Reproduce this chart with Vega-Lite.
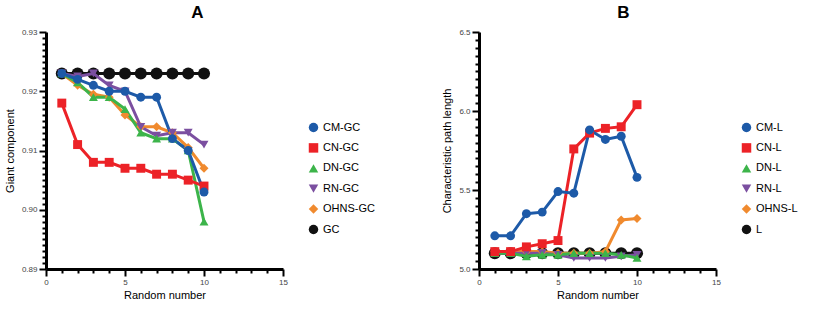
{
  "$schema": "https://vega.github.io/schema/vega-lite/v6.json",
  "background": "white",
  "padding": {"left": 4, "top": 4, "right": 0, "bottom": 0},
  "config": {
    "font": "Liberation Sans",
    "view": {"stroke": null},
    "concat": {"spacing": 66},
    "axis": {
      "grid": false,
      "domainColor": "#000",
      "domainWidth": 3,
      "tickColor": "#000",
      "tickWidth": 2,
      "labelFontSize": 8,
      "labelColor": "#444",
      "labelOverlap": false,
      "labelFlush": false,
      "labelPadding": 2,
      "titleFontSize": 11,
      "titleFontWeight": "normal",
      "titleColor": "#000"
    },
    "legend": {
      "labelFontSize": 11,
      "labelColor": "#000",
      "rowPadding": 8.4,
      "padding": 0,
      "symbolStrokeWidth": 0
    },
    "title": {"fontSize": 17, "fontWeight": "bold", "color": "#000"}
  },
  "datasets": {
    "gc": [
      {"series": "GC", "x": 1, "y": 0.923}, {"series": "GC", "x": 2, "y": 0.923}, {"series": "GC", "x": 3, "y": 0.923}, {"series": "GC", "x": 4, "y": 0.923}, {"series": "GC", "x": 5, "y": 0.923},
      {"series": "GC", "x": 6, "y": 0.923}, {"series": "GC", "x": 7, "y": 0.923}, {"series": "GC", "x": 8, "y": 0.923}, {"series": "GC", "x": 9, "y": 0.923}, {"series": "GC", "x": 10, "y": 0.923},
      {"series": "OHNS-GC", "x": 1, "y": 0.923}, {"series": "OHNS-GC", "x": 2, "y": 0.921}, {"series": "OHNS-GC", "x": 3, "y": 0.9195}, {"series": "OHNS-GC", "x": 4, "y": 0.919}, {"series": "OHNS-GC", "x": 5, "y": 0.916},
      {"series": "OHNS-GC", "x": 6, "y": 0.914}, {"series": "OHNS-GC", "x": 7, "y": 0.914}, {"series": "OHNS-GC", "x": 8, "y": 0.913}, {"series": "OHNS-GC", "x": 9, "y": 0.9105}, {"series": "OHNS-GC", "x": 10, "y": 0.907},
      {"series": "RN-GC", "x": 1, "y": 0.923}, {"series": "RN-GC", "x": 2, "y": 0.9225}, {"series": "RN-GC", "x": 3, "y": 0.923}, {"series": "RN-GC", "x": 4, "y": 0.921}, {"series": "RN-GC", "x": 5, "y": 0.920},
      {"series": "RN-GC", "x": 6, "y": 0.914}, {"series": "RN-GC", "x": 7, "y": 0.9125}, {"series": "RN-GC", "x": 8, "y": 0.913}, {"series": "RN-GC", "x": 9, "y": 0.913}, {"series": "RN-GC", "x": 10, "y": 0.911},
      {"series": "DN-GC", "x": 1, "y": 0.923}, {"series": "DN-GC", "x": 2, "y": 0.9215}, {"series": "DN-GC", "x": 3, "y": 0.919}, {"series": "DN-GC", "x": 4, "y": 0.919}, {"series": "DN-GC", "x": 5, "y": 0.917},
      {"series": "DN-GC", "x": 6, "y": 0.913}, {"series": "DN-GC", "x": 7, "y": 0.912}, {"series": "DN-GC", "x": 8, "y": 0.912}, {"series": "DN-GC", "x": 9, "y": 0.910}, {"series": "DN-GC", "x": 10, "y": 0.898},
      {"series": "CN-GC", "x": 1, "y": 0.918}, {"series": "CN-GC", "x": 2, "y": 0.911}, {"series": "CN-GC", "x": 3, "y": 0.908}, {"series": "CN-GC", "x": 4, "y": 0.908}, {"series": "CN-GC", "x": 5, "y": 0.907},
      {"series": "CN-GC", "x": 6, "y": 0.907}, {"series": "CN-GC", "x": 7, "y": 0.906}, {"series": "CN-GC", "x": 8, "y": 0.906}, {"series": "CN-GC", "x": 9, "y": 0.905}, {"series": "CN-GC", "x": 10, "y": 0.904},
      {"series": "CM-GC", "x": 1, "y": 0.923}, {"series": "CM-GC", "x": 2, "y": 0.922}, {"series": "CM-GC", "x": 3, "y": 0.921}, {"series": "CM-GC", "x": 4, "y": 0.920}, {"series": "CM-GC", "x": 5, "y": 0.920},
      {"series": "CM-GC", "x": 6, "y": 0.919}, {"series": "CM-GC", "x": 7, "y": 0.919}, {"series": "CM-GC", "x": 8, "y": 0.912}, {"series": "CM-GC", "x": 9, "y": 0.910}, {"series": "CM-GC", "x": 10, "y": 0.903}
    ],
    "pl": [
      {"series": "L", "x": 1, "y": 5.10}, {"series": "L", "x": 2, "y": 5.10}, {"series": "L", "x": 3, "y": 5.10}, {"series": "L", "x": 4, "y": 5.10}, {"series": "L", "x": 5, "y": 5.10},
      {"series": "L", "x": 6, "y": 5.10}, {"series": "L", "x": 7, "y": 5.10}, {"series": "L", "x": 8, "y": 5.10}, {"series": "L", "x": 9, "y": 5.10}, {"series": "L", "x": 10, "y": 5.10},
      {"series": "OHNS-L", "x": 1, "y": 5.11}, {"series": "OHNS-L", "x": 2, "y": 5.11}, {"series": "OHNS-L", "x": 3, "y": 5.11}, {"series": "OHNS-L", "x": 4, "y": 5.11}, {"series": "OHNS-L", "x": 5, "y": 5.10},
      {"series": "OHNS-L", "x": 6, "y": 5.10}, {"series": "OHNS-L", "x": 7, "y": 5.10}, {"series": "OHNS-L", "x": 8, "y": 5.11}, {"series": "OHNS-L", "x": 9, "y": 5.31}, {"series": "OHNS-L", "x": 10, "y": 5.32},
      {"series": "RN-L", "x": 1, "y": 5.10}, {"series": "RN-L", "x": 2, "y": 5.10}, {"series": "RN-L", "x": 3, "y": 5.10}, {"series": "RN-L", "x": 4, "y": 5.10}, {"series": "RN-L", "x": 5, "y": 5.09},
      {"series": "RN-L", "x": 6, "y": 5.07}, {"series": "RN-L", "x": 7, "y": 5.07}, {"series": "RN-L", "x": 8, "y": 5.07}, {"series": "RN-L", "x": 9, "y": 5.08}, {"series": "RN-L", "x": 10, "y": 5.09},
      {"series": "DN-L", "x": 1, "y": 5.10}, {"series": "DN-L", "x": 2, "y": 5.10}, {"series": "DN-L", "x": 3, "y": 5.08}, {"series": "DN-L", "x": 4, "y": 5.09}, {"series": "DN-L", "x": 5, "y": 5.09},
      {"series": "DN-L", "x": 6, "y": 5.10}, {"series": "DN-L", "x": 7, "y": 5.10}, {"series": "DN-L", "x": 8, "y": 5.10}, {"series": "DN-L", "x": 9, "y": 5.09}, {"series": "DN-L", "x": 10, "y": 5.07},
      {"series": "CN-L", "x": 1, "y": 5.11}, {"series": "CN-L", "x": 2, "y": 5.11}, {"series": "CN-L", "x": 3, "y": 5.14}, {"series": "CN-L", "x": 4, "y": 5.16}, {"series": "CN-L", "x": 5, "y": 5.18},
      {"series": "CN-L", "x": 6, "y": 5.76}, {"series": "CN-L", "x": 7, "y": 5.86}, {"series": "CN-L", "x": 8, "y": 5.89}, {"series": "CN-L", "x": 9, "y": 5.90}, {"series": "CN-L", "x": 10, "y": 6.04},
      {"series": "CM-L", "x": 1, "y": 5.21}, {"series": "CM-L", "x": 2, "y": 5.21}, {"series": "CM-L", "x": 3, "y": 5.35}, {"series": "CM-L", "x": 4, "y": 5.36}, {"series": "CM-L", "x": 5, "y": 5.49},
      {"series": "CM-L", "x": 6, "y": 5.48}, {"series": "CM-L", "x": 7, "y": 5.88}, {"series": "CM-L", "x": 8, "y": 5.82}, {"series": "CM-L", "x": 9, "y": 5.84}, {"series": "CM-L", "x": 10, "y": 5.58}
    ]
  },
  "hconcat": [
    {
      "width": 237,
      "height": 237,
      "data": {"name": "gc"},
      "title": {"text": "A", "dx": 33, "offset": 6},
      "encoding": {
        "x": {
          "field": "x", "type": "quantitative",
          "scale": {"domain": [0, 15], "nice": false, "zero": false},
          "axis": {
            "title": "Random number",
            "values": [0,1,2,3,4,5,6,7,8,9,10,11,12,13,14,15],
            "labelExpr": "datum.value % 5 === 0 ? datum.label : ''",
            "tickSize": {"condition": {"test": "datum.value % 5 === 0", "value": 7}, "value": 4},
            "titlePadding": 3
          }
        },
        "y": {
          "field": "y", "type": "quantitative",
          "scale": {"domain": [0.89, 0.93], "nice": false, "zero": false},
          "axis": {
            "title": "Giant component",
            "values": [0.89,0.891,0.892,0.893,0.894,0.895,0.896,0.897,0.898,0.899,0.9,0.901,0.902,0.903,0.904,0.905,0.906,0.907,0.908,0.909,0.91,0.911,0.912,0.913,0.914,0.915,0.916,0.917,0.918,0.919,0.92,0.921,0.922,0.923,0.924,0.925,0.926,0.927,0.928,0.929,0.93],
            "labelExpr": "round(datum.value*1000) % 10 === 0 ? format(datum.value, '.2f') : ''",
            "tickSize": {"condition": {"test": "round(datum.value*1000) % 10 === 0", "value": 7}, "value": 4},
            "titlePadding": 6
          }
        },
        "color": {
          "field": "series", "type": "nominal",
          "scale": {"domain": ["CM-GC", "CN-GC", "DN-GC", "RN-GC", "OHNS-GC", "GC"], "range": ["#1d5aa8", "#ec2227", "#3cb44a", "#7b4fa0", "#f08a2e", "#111111"]},
          "legend": {"title": null, "orient": "none", "legendX": 262, "legendY": 90, "symbolSize": 90}
        }
      },
      "layer": [
        {"transform": [{"filter": "datum.series === 'GC'"}], "mark": {"type": "line", "strokeWidth": 3}},
        {
          "transform": [{"filter": "datum.series === 'GC'"}],
          "mark": {"type": "point", "filled": true, "opacity": 1, "size": 145},
          "encoding": {
            "shape": {
              "field": "series", "type": "nominal",
              "scale": {"domain": ["CM-GC", "CN-GC", "DN-GC", "RN-GC", "OHNS-GC", "GC"], "range": ["circle", "square", "triangle-up", "triangle-down", "diamond", "circle"]},
              "legend": {"title": null, "orient": "none", "legendX": 262, "legendY": 90, "symbolSize": 90}
            }
          }
        },
        {"transform": [{"filter": "datum.series !== 'GC'"}], "mark": {"type": "line", "strokeWidth": 3}},
        {
          "transform": [{"filter": "datum.series !== 'GC'"}],
          "mark": {"type": "point", "filled": true, "opacity": 1, "size": 80},
          "encoding": {
            "shape": {
              "field": "series", "type": "nominal",
              "scale": {"domain": ["CM-GC", "CN-GC", "DN-GC", "RN-GC", "OHNS-GC", "GC"], "range": ["circle", "square", "triangle-up", "triangle-down", "diamond", "circle"]},
              "legend": {"title": null, "orient": "none", "legendX": 262, "legendY": 90, "symbolSize": 90}
            }
          }
        }
      ]
    },
    {
      "width": 237,
      "height": 237,
      "data": {"name": "pl"},
      "title": {"text": "B", "dx": 26, "offset": 6},
      "encoding": {
        "x": {
          "field": "x", "type": "quantitative",
          "scale": {"domain": [0, 15], "nice": false, "zero": false},
          "axis": {
            "title": "Random number",
            "values": [0,1,2,3,4,5,6,7,8,9,10,11,12,13,14,15],
            "labelExpr": "datum.value % 5 === 0 ? datum.label : ''",
            "tickSize": {"condition": {"test": "datum.value % 5 === 0", "value": 7}, "value": 4},
            "titlePadding": 3
          }
        },
        "y": {
          "field": "y", "type": "quantitative",
          "scale": {"domain": [5.0, 6.5], "nice": false, "zero": false},
          "axis": {
            "title": "Characteristic path length",
            "values": [5.0,5.05,5.1,5.15,5.2,5.25,5.3,5.35,5.4,5.45,5.5,5.55,5.6,5.65,5.7,5.75,5.8,5.85,5.9,5.95,6.0,6.05,6.1,6.15,6.2,6.25,6.3,6.35,6.4,6.45,6.5],
            "labelExpr": "round(datum.value*100) % 50 === 0 ? format(datum.value, '.1f') : ''",
            "tickSize": {"condition": {"test": "round(datum.value*100) % 50 === 0", "value": 7}, "value": 4},
            "titlePadding": 6
          }
        },
        "color": {
          "field": "series", "type": "nominal",
          "scale": {"domain": ["CM-L", "CN-L", "DN-L", "RN-L", "OHNS-L", "L"], "range": ["#1d5aa8", "#ec2227", "#3cb44a", "#7b4fa0", "#f08a2e", "#111111"]},
          "legend": {"title": null, "orient": "none", "legendX": 262, "legendY": 90, "symbolSize": 90}
        }
      },
      "layer": [
        {"transform": [{"filter": "datum.series === 'L'"}], "mark": {"type": "line", "strokeWidth": 3}},
        {
          "transform": [{"filter": "datum.series === 'L'"}],
          "mark": {"type": "point", "filled": true, "opacity": 1, "size": 145},
          "encoding": {
            "shape": {
              "field": "series", "type": "nominal",
              "scale": {"domain": ["CM-L", "CN-L", "DN-L", "RN-L", "OHNS-L", "L"], "range": ["circle", "square", "triangle-up", "triangle-down", "diamond", "circle"]},
              "legend": {"title": null, "orient": "none", "legendX": 262, "legendY": 90, "symbolSize": 90}
            }
          }
        },
        {"transform": [{"filter": "datum.series !== 'L'"}], "mark": {"type": "line", "strokeWidth": 3}},
        {
          "transform": [{"filter": "datum.series !== 'L'"}],
          "mark": {"type": "point", "filled": true, "opacity": 1, "size": 80},
          "encoding": {
            "shape": {
              "field": "series", "type": "nominal",
              "scale": {"domain": ["CM-L", "CN-L", "DN-L", "RN-L", "OHNS-L", "L"], "range": ["circle", "square", "triangle-up", "triangle-down", "diamond", "circle"]},
              "legend": {"title": null, "orient": "none", "legendX": 262, "legendY": 90, "symbolSize": 90}
            }
          }
        }
      ]
    }
  ],
  "resolve": {"scale": {"color": "independent", "shape": "independent"}}
}
